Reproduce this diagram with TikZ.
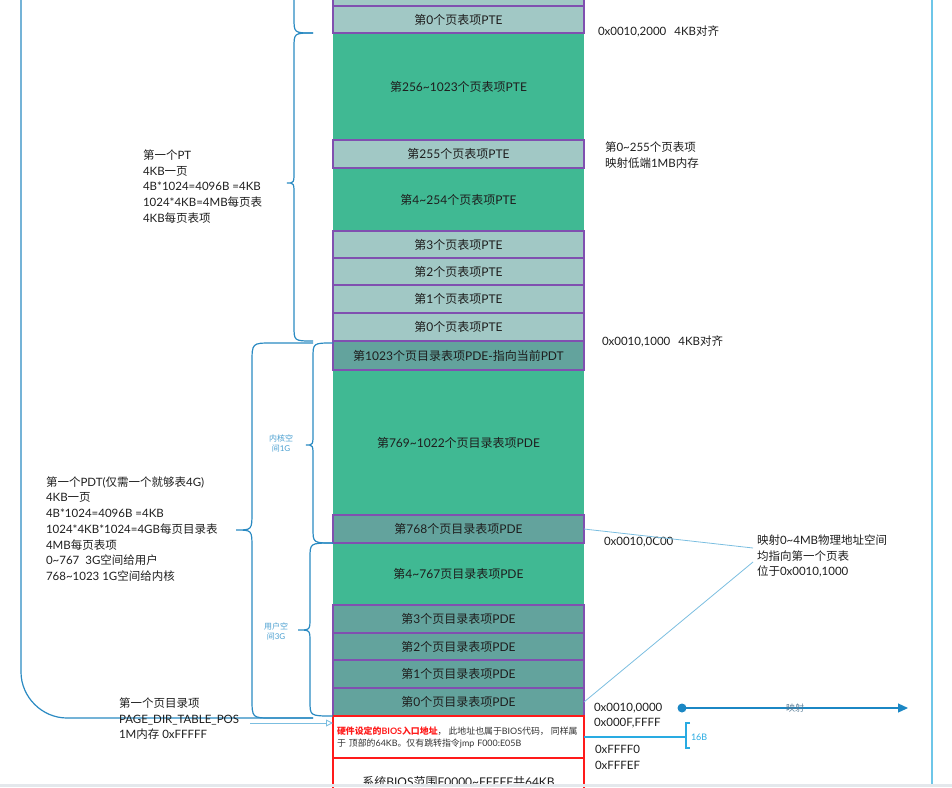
\documentclass[tikz,border=0pt]{standalone}
\usepackage{fontspec}
\setmainfont{Lato}
\newfontfamily\cjk{Noto Sans CJK SC}
\usetikzlibrary{arrows.meta}
\XeTeXinterchartokenstate=1
\newXeTeXintercharclass\CJKcls
\newcount\cjkc
\cjkc="2E80
\loop\ifnum\cjkc<"A000 \XeTeXcharclass\cjkc=\CJKcls \advance\cjkc by 1 \repeat
\cjkc="FF00
\loop\ifnum\cjkc<"FFF0 \XeTeXcharclass\cjkc=\CJKcls \advance\cjkc by 1 \repeat
\XeTeXinterchartoks 0 \CJKcls={\begingroup\cjk}
\XeTeXinterchartoks 4095 \CJKcls={\begingroup\cjk}
\XeTeXinterchartoks \CJKcls 0={\endgroup}
\XeTeXinterchartoks \CJKcls 4095={\endgroup}
\newcommand\tld{\char"7E\relax}
\definecolor{ltrow}{HTML}{A1C8C5}
\definecolor{grrow}{HTML}{40B993}
\definecolor{dkrow}{HTML}{63A39D}
\definecolor{purp}{HTML}{8050B0}
\definecolor{brc}{HTML}{2A8AC2}
\definecolor{thinc}{HTML}{7BBEE0}
\definecolor{vlinec}{HTML}{6EC6E8}
\definecolor{txt}{HTML}{1E1E1E}
\definecolor{cyanb}{HTML}{29ABE2}
\definecolor{arrb}{HTML}{1B87C4}
\definecolor{klbl}{HTML}{4A9FD0}
\definecolor{maplbl}{HTML}{557A95}
\definecolor{bandgray}{HTML}{E4E8EC}
\definecolor{biosred}{HTML}{FF1A1A}
\definecolor{biostxt}{HTML}{333333}
\begin{document}
\begin{tikzpicture}[x=1pt,y=-1pt,
  every node/.style={font=\fontsize{11.5}{15.7}\selectfont, text=txt, inner sep=0pt, outer sep=0pt},
  row/.style={minimum width=251pt, anchor=north west, draw=purp, line width=1.2pt, font=\fontsize{12}{14}\selectfont},
  lt/.style={row, fill=ltrow},
  dk/.style={row, fill=dkrow},
  gr/.style={row, fill=grrow, draw=none},
  biosbox/.style={row, draw=biosred, fill=white},
  brace/.style={draw=brc, line width=1.2pt},
  thinline/.style={draw=thinc, line width=0.8pt},
  smalllbl/.style={font=\fontsize{8}{10}\selectfont, text=klbl, align=center}
]
\useasboundingbox (0,0) rectangle (952,787);
% green rows first
\node[gr, minimum height=107pt] (pteg1) at (333,33) {第256\tld1023个页表项PTE};
\node[gr, minimum height=63pt] (pteg2) at (333,168) {第4\tld254个页表项PTE};
\node[gr, minimum height=145pt] (pdeg3) at (333,370) {第769\tld1022个页目录表项PDE};
\node[gr, minimum height=62pt] (pdeg4) at (333,543) {第4\tld767页目录表项PDE};
% bordered rows
\node[lt, minimum height=16pt] (ptetop) at (333,-10) {};
\node[lt, minimum height=27pt] (ptea0) at (333,6) {第0个页表项PTE};
\node[lt, minimum height=28pt] (pte255) at (333,140) {第255个页表项PTE};
\node[lt, minimum height=27pt] (pte3) at (333,231) {第3个页表项PTE};
\node[lt, minimum height=27pt] (pte2) at (333,258) {第2个页表项PTE};
\node[lt, minimum height=28pt] (pte1) at (333,285) {第1个页表项PTE};
\node[lt, minimum height=28pt] (pte0) at (333,313) {第0个页表项PTE};
\node[dk, minimum height=29pt] (pde1023) at (333,341) {第1023个页目录表项PDE-指向当前PDT};
\node[dk, minimum height=28pt] (pde768) at (333,515) {第768个页目录表项PDE};
\node[dk, minimum height=28pt] (pde3) at (333,605) {第3个页目录表项PDE};
\node[dk, minimum height=27pt] (pde2) at (333,633) {第2个页目录表项PDE};
\node[dk, minimum height=28pt] (pde1) at (333,660) {第1个页目录表项PDE};
\node[dk, minimum height=28pt] (pde0) at (333,688) {第0个页目录表项PDE};
\node[biosbox, minimum height=42pt, text width=247pt, inner xsep=2pt, align=left, text=biostxt, font=\fontsize{8.9}{12}\selectfont] (bios1) at (333,716)
  {\hspace{2pt}\mbox{{\bfseries\color{biosred}硬件设定的BIOS入口地址}，\hspace{2pt}此地址也属于BIOS代码，\hspace{2pt}同样属}\\\hspace{2pt}\mbox{于\hspace{3pt}顶部的64KB。仅有跳转指令jmp F000:E05B}};
\node[biosbox, minimum height=48pt] (bios2) at (333,758) {系统BIOS范围F0000\tld FFFFF共64KB};

% right vertical line
\draw[draw=vlinec, line width=1.5pt] (932,0) -- (932,787);

% outer left line
\draw[brace] (21,-5) -- (21,672) .. controls (21,697) and (42,718) .. (67,718) -- (313,718);
% braces
\draw[brace] (294,-5) -- (294,18) .. controls (294,33) .. (313,33);
\draw[brace] (313,33) .. controls (294,33) .. (294,48) -- (294,171) .. controls (294,183) .. (287,183)
  .. controls (294,183) .. (294,195) -- (294,326) .. controls (294,341) .. (313,341);
\draw[brace] (313,343) -- (272,343) .. controls (252,343) .. (252,363) -- (252,512) .. controls (252,530) .. (236,530)
  .. controls (252,530) .. (252,548) -- (252,698) .. controls (252,718) .. (272,718) -- (313,718);
\draw[brace] (333,343) .. controls (313,343) .. (313,358) -- (313,433) .. controls (313,445) .. (306,445)
  .. controls (313,445) .. (313,457) -- (313,528) .. controls (313,543) .. (333,543);
\draw[brace] (333,543) .. controls (310,543) .. (310,558) -- (310,618) .. controls (310,630) .. (298,630)
  .. controls (310,630) .. (310,642) -- (310,701) .. controls (310,716) .. (333,716);
\node[smalllbl] (klabel) at (281,443) {内核空\\间1G};
\node[smalllbl] (ulabel) at (276,631) {用户空\\间3G};

% left texts
\node[anchor=west, align=left] (ptnote) at (143,186.4) {第一个PT\\4KB一页\\4B*1024=4096B =4KB\\1024*4KB=4MB每页表\\4KB每页表项};
\node[anchor=west, align=left] (pdtnote) at (46,529) {第一个PDT(仅需一个就够表4G)\\4KB一页\\4B*1024=4096B =4KB\\1024*4KB*1024=4GB每页目录表\\4MB每页表项\\0\tld767\hspace{6pt}3G空间给用户\\768\tld1023 1G空间给内核};
\node[anchor=west, align=left] (pdpos) at (119,718.7) {第一个页目录项\\PAGE\_DIR\_TABLE\_POS\\1M内存 0xFFFFF};
\coordinate (pdstart) at (250,723);
\draw[draw=thinc, line width=0.9pt, -{Triangle[open,length=7pt,width=7pt]}] (pdstart) -- (pdstart -| bios1.west);

% right texts
\node[anchor=west] (a2000) at (598,31) {0x0010,2000\hspace{8pt}4KB对齐};
\node[anchor=west, align=left] (map1m) at (605,155) {第0\tld255个页表项\\映射低端1MB内存};
\node[anchor=west] (a1000) at (602,341) {0x0010,1000\hspace{8pt}4KB对齐};
\node[anchor=west] (a0c00) at (604,542) {0x0010,0C00};
\node[anchor=west, align=left] (note) at (757,556) {映射0\tld4MB物理地址空间\\均指向第一个页表\\位于0x0010,1000};
\node[anchor=west, align=left] (a100000) at (594,715.5) {0x0010,0000\\0x000F,FFFF};
\node[anchor=west, align=left] (affff0) at (595,757.5) {0xFFFF0\\0xFFFEF};

\draw[thinline] (pde768.east) -- ([xshift=-4pt,yshift=8pt]note.west);
\draw[thinline] (pde0.east) -- ([xshift=-4pt,yshift=-6pt]note.west);

% 16B bracket
\draw[draw=cyanb, line width=1.4pt] (bios1.east |- 0,737) -- (686,737);
\draw[draw=cyanb, line width=1.4pt] (690,723) -- (686,723) -- (686,748) -- (690,748);
\node[anchor=west, font=\fontsize{9}{11}\selectfont, text=cyanb] (b16) at (691,737) {16B};

% mapping arrow
\node[circle, fill=arrb, minimum size=9pt] (mdot) at (682,708) {};
\coordinate (mend) at (908,708);
\draw[draw=arrb, line width=1.2pt, -{Triangle[length=10pt,width=9pt]}] (mdot.center) -- (mend);
\node[font=\fontsize{9}{11}\selectfont, text=maplbl] (maplabel) at (795,708) {映射};

% bottom band
\fill[bandgray] (0,784) rectangle (952,787);
\end{tikzpicture}
\end{document}
